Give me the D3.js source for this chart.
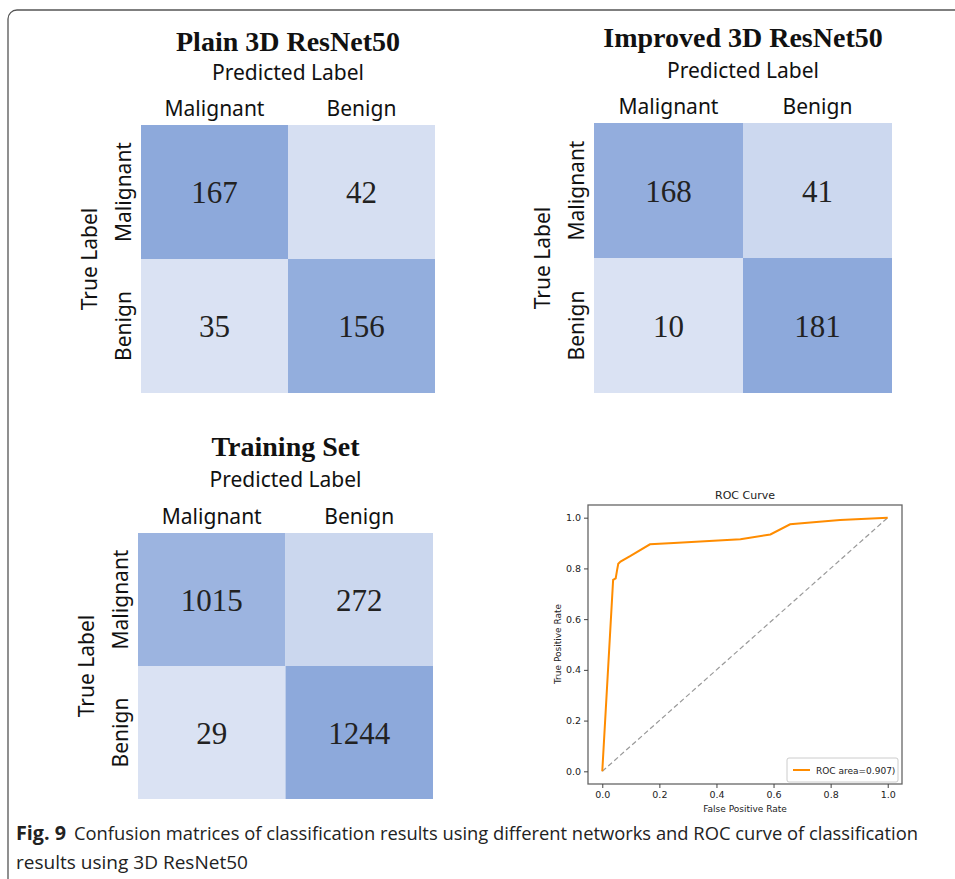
<!DOCTYPE html>
<html><head><meta charset="utf-8">
<script src="https://cdn.jsdelivr.net/npm/d3@7"></script>
<style>body{margin:0;background:#fff}svg{display:block}</style>
</head><body>
<svg id="chart" width="955" height="879"></svg>
<script>
// ---- data ----
const classes = ["Malignant", "Benign"];
const plainTitle = "Plain 3D ResNet50";
const plainValues = [[167, 42], [35, 156]];
const improvedTitle = "Improved 3D ResNet50";
const improvedValues = [[168, 41], [10, 181]];
const trainTitle = "Training Set";
const trainValues = [[1015, 272], [29, 1244]];
const rocFpr = [0, 0.038, 0.047, 0.052, 0.056, 0.064, 0.099, 0.167, 0.25, 0.484, 0.589, 0.658, 0.75, 0.833, 1.0];
const rocTpr = [0, 0.755, 0.761, 0.794, 0.818, 0.827, 0.849, 0.895, 0.900, 0.915, 0.934, 0.974, 0.983, 0.991, 1.0];
const rocTicks = [0, 0.2, 0.4, 0.6, 0.8, 1.0];
const rocLegend = "ROC area=0.907)";
const captionBold = "Fig. 9";
const captionLine1 = "Confusion matrices of classification results using different networks and ROC curve of classification";
const captionLine2 = "results using 3D ResNet50";

const svg = d3.select("#chart");

// frame
svg.append("rect").attr("x", 8).attr("y", 10).attr("width", 980).attr("height", 900)
  .attr("rx", 9).attr("fill", "none").attr("stroke", "#555").attr("stroke-width", 1.3);

function confusion(values, title, box, layout) {
  const g = svg.append("g");
  const x = d3.scaleBand().domain(classes).range([box.x0, box.x1]);
  const y = d3.scaleBand().domain(classes).range([box.y0, box.y1]);
  const flat = values.flat();
  const color = d3.scaleLinear().domain([d3.min(flat), d3.max(flat)])
    .range(["#dae2f3", "#8da9db"]).interpolate(d3.interpolateRgb);
  const cells = [];
  values.forEach((row, i) => row.forEach((v, j) => cells.push({r: classes[i], c: classes[j], v})));
  g.selectAll("rect.cell").data(cells).enter().append("rect")
    .attr("x", d => x(d.c)).attr("y", d => y(d.r))
    .attr("width", x.bandwidth()).attr("height", y.bandwidth())
    .attr("fill", d => color(d.v));
  g.selectAll("text.val").data(cells).enter().append("text")
    .attr("x", d => x(d.c) + x.bandwidth() / 2).attr("y", d => y(d.r) + y.bandwidth() / 2)
    .attr("dy", "0.36em").attr("text-anchor", "middle")
    .attr("font-family", "'Liberation Serif', 'Times New Roman', serif").attr("font-size", 31)
    .attr("fill", "#222").text(d => d.v);
  const cx = (box.x0 + box.x1) / 2;
  g.append("text").attr("x", cx).attr("y", layout.titleY).attr("text-anchor", "middle")
    .attr("font-family", "'Liberation Serif', 'Times New Roman', serif").attr("font-weight", "bold")
    .attr("font-size", 28).attr("fill", "#111").text(title);
  g.append("text").attr("x", cx).attr("y", layout.predY).attr("text-anchor", "middle")
    .attr("font-family", "'Noto Sans', sans-serif").attr("font-size", 21).attr("fill", "#111")
    .text("Predicted Label");
  // column labels
  g.selectAll("text.col").data(classes).enter().append("text")
    .attr("x", d => x(d) + x.bandwidth() / 2).attr("y", box.y0 - 9).attr("text-anchor", "middle")
    .attr("font-family", "'Noto Sans', sans-serif").attr("font-size", 21).attr("fill", "#111").text(d => d);
  // row labels
  g.selectAll("text.row").data(classes).enter().append("text")
    .attr("transform", d => `translate(${box.x0 - 10},${y(d) + y.bandwidth() / 2}) rotate(-90)`)
    .attr("text-anchor", "middle")
    .attr("font-family", "'Noto Sans', sans-serif").attr("font-size", 21).attr("fill", "#111").text(d => d);
  g.append("text")
    .attr("transform", `translate(${box.x0 - 44},${(box.y0 + box.y1) / 2}) rotate(-90)`)
    .attr("text-anchor", "middle")
    .attr("font-family", "'Noto Sans', sans-serif").attr("font-size", 21).attr("fill", "#111").text("True Label");
}

confusion(plainValues, plainTitle, {x0: 141, x1: 435, y0: 125, y1: 393}, {titleY: 51, predY: 80});
confusion(improvedValues, improvedTitle, {x0: 594, x1: 892, y0: 123, y1: 393}, {titleY: 47, predY: 78});
confusion(trainValues, trainTitle, {x0: 138, x1: 433, y0: 533, y1: 799}, {titleY: 456, predY: 487});

// ---- ROC ----
const rx = d3.scaleLinear().domain([-0.05, 1.05]).range([588, 902]);
const ry = d3.scaleLinear().domain([-0.05, 1.05]).range([784, 505]);
const rg = svg.append("g");
rg.append("line").attr("x1", rx(0)).attr("y1", ry(0)).attr("x2", rx(1)).attr("y2", ry(1))
  .attr("stroke", "#999").attr("stroke-width", 1.2).attr("stroke-dasharray", "5,3");
rg.append("path").datum(rocFpr.map((f, i) => [f, rocTpr[i]]))
  .attr("d", d3.line().x(d => rx(d[0])).y(d => ry(d[1])))
  .attr("fill", "none").attr("stroke", "#ff8c00").attr("stroke-width", 2);
rg.append("rect").attr("x", 588).attr("y", 505).attr("width", 314).attr("height", 279)
  .attr("fill", "none").attr("stroke", "#666").attr("stroke-width", 1.3);
const xa = rg.append("g").attr("transform", "translate(0,784)")
  .call(d3.axisBottom(rx).tickValues(rocTicks).tickFormat(d3.format(".1f")).tickSize(4).tickPadding(3));
const ya = rg.append("g").attr("transform", "translate(588,0)")
  .call(d3.axisLeft(ry).tickValues(rocTicks).tickFormat(d3.format(".1f")).tickSize(4).tickPadding(3));
[xa, ya].forEach(a => {
  a.select(".domain").remove();
  a.selectAll("line").attr("stroke", "#444");
  a.selectAll("text").attr("font-family", "'DejaVu Sans', sans-serif").attr("font-size", 9.5).attr("fill", "#222");
});
rg.append("text").attr("x", 745).attr("y", 499).attr("text-anchor", "middle")
  .attr("font-family", "'DejaVu Sans', sans-serif").attr("font-size", 11).attr("fill", "#222").text("ROC Curve");
rg.append("text").attr("x", 745).attr("y", 812).attr("text-anchor", "middle")
  .attr("font-family", "'DejaVu Sans', sans-serif").attr("font-size", 9).attr("fill", "#222").text("False Positive Rate");
rg.append("text").attr("transform", "translate(561,644) rotate(-90)").attr("text-anchor", "middle")
  .attr("font-family", "'DejaVu Sans', sans-serif").attr("font-size", 9).attr("fill", "#222").text("True Positive Rate");
// legend
rg.append("rect").attr("x", 787).attr("y", 758).attr("width", 111).attr("height", 24).attr("rx", 2)
  .attr("fill", "#fff").attr("stroke", "#ccc");
rg.append("line").attr("x1", 793).attr("x2", 810).attr("y1", 770).attr("y2", 770)
  .attr("stroke", "#ff8c00").attr("stroke-width", 2);
rg.append("text").attr("x", 816).attr("y", 773.5)
  .attr("font-family", "'DejaVu Sans', sans-serif").attr("font-size", 9).attr("fill", "#222").text(rocLegend);

// ---- caption ----
svg.append("text").attr("x", 16).attr("y", 840)
  .attr("font-family", "'Open Sans', sans-serif").attr("font-weight", "bold").attr("font-size", 19)
  .attr("fill", "#222").attr("textLength", 50).attr("lengthAdjust", "spacingAndGlyphs").text(captionBold);
svg.append("text").attr("x", 74).attr("y", 840)
  .attr("font-family", "'Open Sans', sans-serif").attr("font-size", 19)
  .attr("fill", "#222").attr("textLength", 844).attr("lengthAdjust", "spacingAndGlyphs").text(captionLine1);
svg.append("text").attr("x", 16).attr("y", 869)
  .attr("font-family", "'Open Sans', sans-serif").attr("font-size", 19)
  .attr("fill", "#222").attr("textLength", 232).attr("lengthAdjust", "spacingAndGlyphs").text(captionLine2);
</script>
</body></html>
